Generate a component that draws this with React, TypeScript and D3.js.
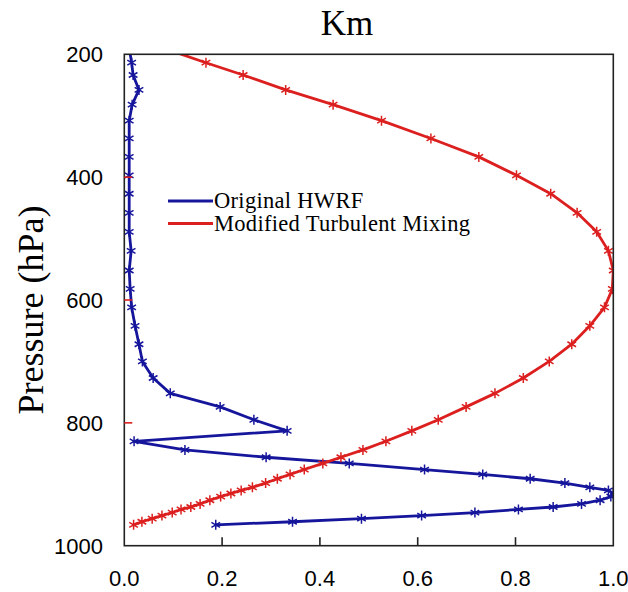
import React, { useEffect, useRef } from "react";
import * as d3 from "d3";

// model levels (hPa), shared by both runs
const pressure = [
  190, 213.7, 233.7, 258, 282, 308, 337, 367, 397, 427, 458, 489, 520, 552, 582,
  612, 642, 672, 700, 727, 752, 774, 795, 813, 830, 844, 856, 866, 876, 884,
  891, 898, 905, 910, 915, 920, 926, 932, 937, 941, 946, 951, 956, 961, 966,
];

// normalised Km, original HWRF
const original = [
  0.01, 0.015, 0.018, 0.03, 0.016, 0.01, 0.01, 0.01, 0.01, 0.01, 0.01, 0.01, 0.014, 0.01, 0.012,
  0.015, 0.022, 0.03, 0.037, 0.059, 0.094, 0.196, 0.265, 0.333, 0.02, 0.124, 0.29, 0.46, 0.614, 0.733,
  0.83, 0.901, 0.952, 0.99, 1.0, 0.995, 0.973, 0.935, 0.877, 0.806, 0.717, 0.608, 0.485, 0.344, 0.187,
];

// normalised Km, modified turbulent mixing
const modified = [
  0.08, 0.167, 0.243, 0.33, 0.427, 0.526, 0.627, 0.725, 0.802, 0.872, 0.926, 0.966, 0.99, 1.0, 0.998,
  0.982, 0.952, 0.915, 0.869, 0.816, 0.758, 0.699, 0.642, 0.588, 0.535, 0.488, 0.443, 0.406, 0.368, 0.339,
  0.313, 0.289, 0.262, 0.239, 0.218, 0.197, 0.175, 0.155, 0.136, 0.116, 0.098, 0.077, 0.057, 0.036, 0.019,
];

const xTicks = [0, 0.2, 0.4, 0.6, 0.8, 1.0];
const yTicks = [200, 400, 600, 800, 1000];

const series = [
  { name: "Original HWRF", values: original, color: "#16169c" },
  { name: "Modified Turbulent Mixing", values: modified, color: "#dc1f1f" },
];

const App = () => {
  const svgRef = useRef<SVGSVGElement>(null);

  useEffect(() => {
    const width = 628,
      height = 592;
    const left = 124.3,
      right = 613.3,
      top = 54.3,
      bottom = 545.7;

    const svg = d3.select(svgRef.current).attr("width", width).attr("height", height);
    svg.selectAll("*").remove();

    const x = d3.scaleLinear().domain([0, 1]).range([left, right]);
    const y = d3.scaleLinear().domain([200, 1000]).range([top, bottom]);

    svg.append("rect").attr("width", width).attr("height", height).attr("fill", "#fff");

    svg.append("clipPath").attr("id", "plot")
      .append("rect")
      .attr("x", left).attr("y", top)
      .attr("width", right - left).attr("height", bottom - top);

    const g = svg.append("g").attr("clip-path", "url(#plot)");

    const line = d3.line<number>()
      .x(d => x(d))
      .y((_, i) => y(pressure[i]));

    // asterisk marker
    const star = (r: number) => {
      let p = "";
      for (let k = 0; k < 3; k++) {
        const a = (Math.PI / 3) * k + Math.PI / 2;
        const dx = r * Math.cos(a), dy = r * Math.sin(a);
        p += `M${-dx},${-dy}L${dx},${dy}`;
      }
      return p;
    };

    series.forEach(s => {
      g.append("path")
        .datum(s.values)
        .attr("d", line)
        .attr("fill", "none")
        .attr("stroke", s.color)
        .attr("stroke-width", 2.8)
        .attr("stroke-linejoin", "round");

      g.selectAll(null)
        .data(s.values.slice(1))
        .join("path")
        .attr("transform", (d, i) => `translate(${x(d)},${y(pressure[i + 1])})`)
        .attr("d", star(5))
        .attr("stroke", s.color)
        .attr("stroke-width", 1.5)
        .attr("fill", "none");
    });

    // frame
    svg.append("rect")
      .attr("x", left).attr("y", top)
      .attr("width", right - left).attr("height", bottom - top)
      .attr("fill", "none").attr("stroke", "#222").attr("stroke-width", 1.6);

    // x ticks (inside, pointing up)
    svg.selectAll(null)
      .data(xTicks.slice(1, -1))
      .join("line")
      .attr("x1", d => x(d)).attr("x2", d => x(d))
      .attr("y1", bottom).attr("y2", bottom - 8.5)
      .attr("stroke", "#222").attr("stroke-width", 1.6);

    // y ticks (red, inside)
    svg.selectAll(null)
      .data(yTicks.slice(1, -1))
      .join("line")
      .attr("x1", left).attr("x2", left + 8)
      .attr("y1", d => y(d)).attr("y2", d => y(d))
      .attr("stroke", "#dc1f1f").attr("stroke-width", 1.6);

    const sans = "'Liberation Sans', Arial, sans-serif";
    const serif = "'Liberation Serif', 'Times New Roman', serif";

    svg.selectAll(null)
      .data(xTicks)
      .join("text")
      .attr("x", d => x(d))
      .attr("y", 586)
      .attr("text-anchor", "middle")
      .attr("font-family", sans)
      .attr("font-size", 22)
      .text(d => d3.format(".1f")(d));

    svg.selectAll(null)
      .data(yTicks)
      .join("text")
      .attr("x", 103)
      .attr("y", d => y(d) + 8)
      .attr("text-anchor", "end")
      .attr("font-family", sans)
      .attr("font-size", 22)
      .text(d => d);

    svg.append("text")
      .attr("x", 347).attr("y", 35)
      .attr("text-anchor", "middle")
      .attr("font-family", serif)
      .attr("font-size", 35)
      .text("Km");

    svg.append("text")
      .attr("transform", "translate(43,310) rotate(-90)")
      .attr("text-anchor", "middle")
      .attr("font-family", serif)
      .attr("font-size", 36)
      .text("Pressure (hPa)");

    // legend
    series.forEach((s, i) => {
      const ly = 201 + i * 22.5;
      svg.append("line")
        .attr("x1", 168).attr("x2", 213)
        .attr("y1", ly).attr("y2", ly)
        .attr("stroke", s.color).attr("stroke-width", 2.8);
      svg.append("text")
        .attr("x", 214).attr("y", ly + 7)
        .attr("font-family", serif)
        .attr("font-size", 22.5)
        .attr("letter-spacing", 0.3)
        .text(s.name);
    });
  }, []);

  return <svg ref={svgRef} style={{ position: "absolute", left: 0, top: 0 }}></svg>;
};

export default App;
